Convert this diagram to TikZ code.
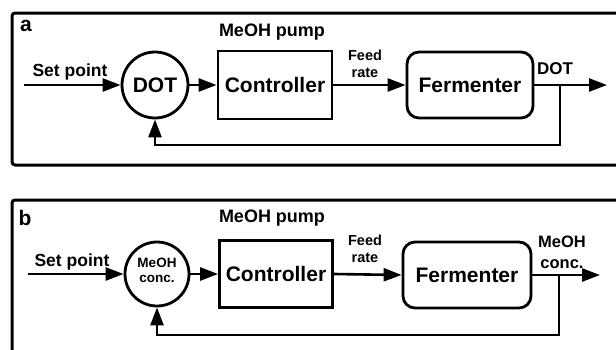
\documentclass[tikz,border=0pt]{standalone}
\usepackage{fontspec}
\setmainfont{Liberation Sans}
\usetikzlibrary{arrows.meta}
\begin{document}
\begin{tikzpicture}[x=1pt,y=-1pt,
  panel/.style={draw,line width=3pt,rounded corners=3pt},
  blk/.style={draw,line width=2.8pt,minimum width=114pt,minimum height=68pt,inner sep=0pt,font=\bfseries\fontsize{21}{24}\selectfont},
  ferm/.style={blk,rounded corners=12pt,minimum width=126pt,minimum height=66pt},
  cmp/.style={draw,circle,line width=2.8pt,minimum size=66pt,inner sep=0pt,align=center},
  conn/.style={line width=2.6pt,-{Triangle[length=18pt,width=13pt]}},
  lbl/.style={font=\bfseries\fontsize{18}{20}\selectfont,inner sep=0pt},
  small/.style={font=\bfseries\fontsize{14.5}{16}\selectfont,inner sep=0pt,align=center},
  tag/.style={font=\bfseries\fontsize{21}{22}\selectfont,inner sep=0pt}]
\useasboundingbox (0,0) rectangle (616,349);
\clip (0,0) rectangle (616,349);
% ---------- panel a ----------
\draw[panel] (12,13) rectangle (630,165);
\node[tag] (taga) at (26,26) {a};
\node[lbl] (pumpa) at (272,32) {MeOH pump};
\coordinate (ina) at (24,85);
\node[cmp,font=\bfseries\fontsize{21}{24}\selectfont] (cmpa) at (155,85) {DOT};
\node[blk] (ctla) at (275,85) {Controller};
\node[ferm] (ferma) at (470,85) {Fermenter};
\coordinate (outa) at (607,85);
\coordinate (bra) at (560,85);
\draw[conn] (ina) -- (cmpa.west);
\node[lbl,font=\bfseries\fontsize{17.5}{20}\selectfont] (spa) at (70,72) {Set point};
\draw[conn] (cmpa.east) -- (ctla.west);
\draw[conn] (ctla.east) -- (ferma.west);
\node[small] (fra) at (365,64) {Feed\\[1pt]rate};
\draw[conn] (ferma.east) -- (outa);
\node[lbl,font=\bfseries\fontsize{17}{20}\selectfont] (oula) at (555,69) {DOT};
\draw[conn] (bra) -- ++(0,60) -| (cmpa.south);
% ---------- panel b ----------
\draw[panel] (12,200) rectangle (630,370);
\node[tag] (tagb) at (25,218) {b};
\node[lbl] (pumpb) at (272,218) {MeOH pump};
\coordinate (inb) at (28,274);
\node[cmp,minimum size=64pt] (cmpb) at (157,274) {};
\node[small,font=\bfseries\fontsize{13.5}{15}\selectfont] (cmpbt) at (157,270) {MeOH\\conc.};
\node[blk,minimum width=113pt,minimum height=67pt] (ctlb) at (276,274) {Controller};
\node[ferm,minimum width=128pt] (fermb) at (467,275) {Fermenter};
\coordinate (outb) at (600,275);
\coordinate (brb) at (559,275);
\draw[conn] (inb) -- (cmpb.west);
\node[lbl,font=\bfseries\fontsize{17.5}{20}\selectfont] (spb) at (72,262) {Set point};
\draw[conn] (cmpb.east) -- (ctlb.west);
\draw[conn] (ctlb.east) -- (fermb.west);
\node[small] (frb) at (365,249) {Feed\\[1pt]rate};
\draw[conn] (fermb.east) -- (outb);
\node[lbl,font=\bfseries\fontsize{16.5}{21}\selectfont,align=center] (oulb) at (562,252) {MeOH\\conc.};
\draw[conn] (brb) -- ++(0,60) -| (cmpb.south);
\end{tikzpicture}
\end{document}
